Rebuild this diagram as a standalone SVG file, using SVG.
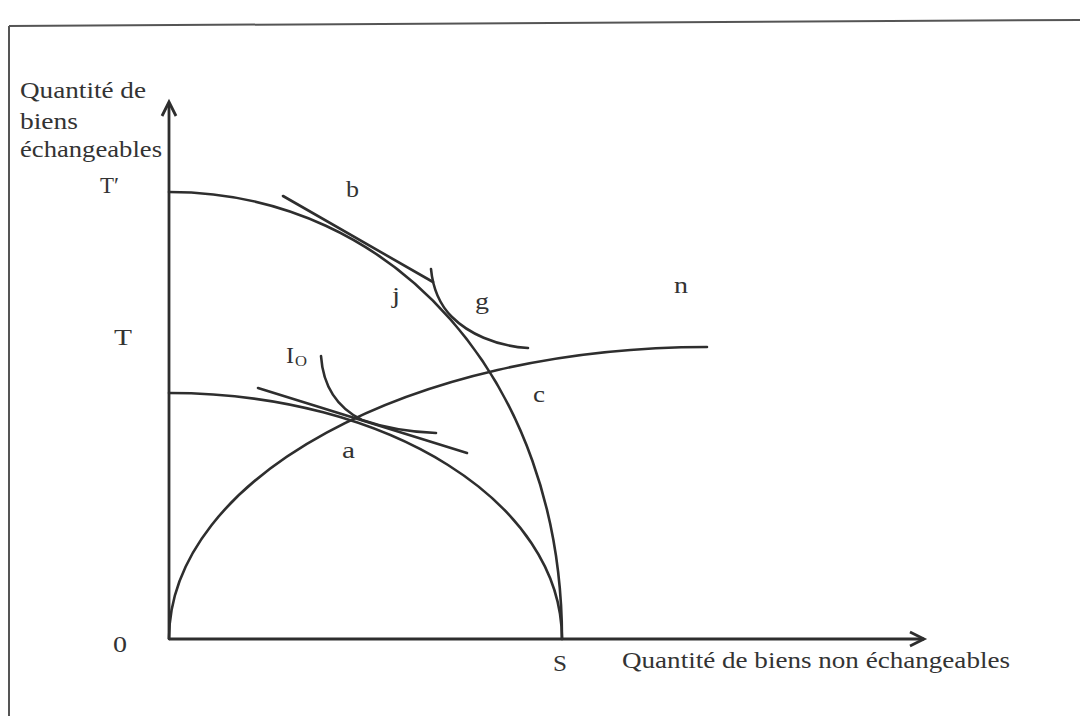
<svg xmlns="http://www.w3.org/2000/svg" width="1080" height="716" viewBox="0 0 1080 716">
  <style>
    .ln { fill: none; stroke: #2e2e2e; stroke-width: 2.6; stroke-linecap: round; stroke-linejoin: round; }
    .ax { fill: none; stroke: #2e2e2e; stroke-width: 2.8; }
    .fr { fill: none; stroke: #555; stroke-width: 2; }
    .t { font-family: "Liberation Serif", "Times New Roman", serif; font-size: 24px; fill: #333; }
    .sub { font-family: "Liberation Serif", "Times New Roman", serif; font-size: 15px; fill: #333; }
  </style>
  <rect width="1080" height="716" fill="#ffffff"/>
  <g id="frame">
    <line class="fr" x1="9" y1="26" x2="1080" y2="20"/>
    <line class="fr" x1="9" y1="26" x2="9" y2="716"/>
  </g>
  <g id="axes">
    <line class="ax" x1="169" y1="639" x2="169" y2="103"/>
    <polyline class="ax" points="162,116 169,102 176,116"/>
    <line class="ax" x1="169" y1="639" x2="924" y2="639"/>
    <polyline class="ax" points="910,632 924,639 910,646"/>
  </g>
  <g id="connectors">
    <path id="ppf-outer" class="ln" d="M169,192 C395,192 562,382 562,639"/>
    <path id="ppf-inner" class="ln" d="M169,393 C389,393 562,503 562,639"/>
    <path id="curve-0n" class="ln" d="M169,639 C169,478 410,347 707,347"/>
    <line id="tangent-b" class="ln" x1="283" y1="196" x2="433" y2="282"/>
    <path id="indiff-g" class="ln" d="M431,269 C433,290 440,305 452,317 C468,333 495,346 528,348"/>
    <line id="tangent-a" class="ln" x1="258" y1="388" x2="467" y2="453"/>
    <path id="indiff-io" class="ln" d="M321,356 C323,385 336,407 362,420 C385,428 410,432 436,433"/>
  </g>
  <g id="labels">
    <text class="t" x="20" y="98" textLength="126" lengthAdjust="spacingAndGlyphs">Quantité de</text>
    <text class="t" x="20" y="129" textLength="58" lengthAdjust="spacingAndGlyphs">biens</text>
    <text class="t" x="20" y="157" textLength="142" lengthAdjust="spacingAndGlyphs">échangeables</text>
    <text class="t" x="100" y="193" textLength="19" lengthAdjust="spacingAndGlyphs">T′</text>
    <text class="t" x="114" y="345" textLength="18" lengthAdjust="spacingAndGlyphs">T</text>
    <text class="t" x="113" y="652" textLength="14" lengthAdjust="spacingAndGlyphs">0</text>
    <text class="t" x="553" y="671" textLength="14" lengthAdjust="spacingAndGlyphs">S</text>
    <text class="t" x="622" y="668" textLength="388" lengthAdjust="spacingAndGlyphs">Quantité de biens non échangeables</text>
    <text class="t" x="346" y="197" textLength="13" lengthAdjust="spacingAndGlyphs">b</text>
    <text class="t" x="392" y="303" textLength="8" lengthAdjust="spacingAndGlyphs">j</text>
    <text class="t" x="475" y="309" textLength="14" lengthAdjust="spacingAndGlyphs">g</text>
    <text class="t" x="674" y="293" textLength="14" lengthAdjust="spacingAndGlyphs">n</text>
    <text class="t" x="533" y="402" textLength="12" lengthAdjust="spacingAndGlyphs">c</text>
    <text class="t" x="342" y="458" textLength="13" lengthAdjust="spacingAndGlyphs">a</text>
    <text class="t" x="286" y="363" textLength="8" lengthAdjust="spacingAndGlyphs">I</text>
    <text class="sub" x="295" y="366" textLength="12" lengthAdjust="spacingAndGlyphs">O</text>
  </g>
</svg>
